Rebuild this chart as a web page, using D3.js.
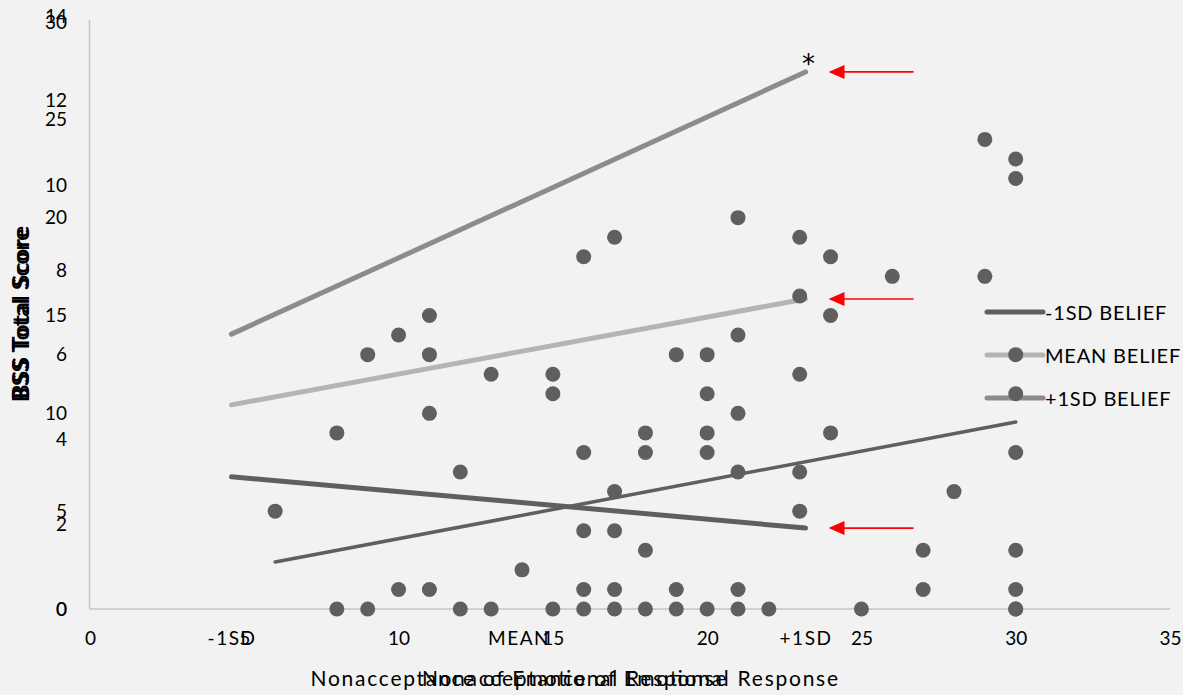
<!DOCTYPE html>
<html>
<head>
<meta charset="utf-8">
<script src="https://cdn.jsdelivr.net/npm/d3@7"></script>
<style>
  body { margin: 0; background: #f2f2f2; }
  text { font-family: Lato, "Open Sans", sans-serif; fill: #000; }
</style>
</head>
<body>
<div id="chart"></div>
<script>
// scatter: nonacceptance of emotional response vs BSS total score
let nonacceptance = [6, 8, 8, 9, 9, 10, 10, 11, 11, 11, 11, 12, 12, 13, 13, 14,
  15, 15, 15, 16, 16, 16, 16, 16, 17, 17, 17, 17, 17, 18, 18, 18, 18,
  19, 19, 19, 20, 20, 20, 20, 20, 21, 21, 21, 21, 21, 21, 22,
  23, 23, 23, 23, 23, 24, 24, 24, 25, 26, 27, 27, 28, 29, 29,
  30, 30, 30, 30, 30, 30, 30, 30, 30];
let bssScore = [5, 9, 0, 13, 0, 14, 1, 15, 13, 10, 1, 7, 0, 12, 0, 2,
  12, 11, 0, 18, 8, 4, 1, 0, 19, 6, 4, 1, 0, 9, 8, 3, 0,
  13, 1, 0, 13, 11, 9, 8, 0, 20, 14, 10, 7, 1, 0, 0,
  19, 16, 12, 7, 5, 18, 15, 9, 0, 17, 3, 1, 6, 24, 17,
  23, 22, 13, 11, 8, 3, 1, 0, 0];

// linear trendline of the scatter (end points)
let trendX = [6, 30];
let trendY = [2.4, 9.56];

// overlay: simple slopes by belief level
let slopeCategories = ["-1SD", "MEAN", "+1SD"];
let lowBelief  = [3.12, 2.52, 1.91];
let meanBelief = [4.82, 6.07, 7.32];
let highBelief = [6.49, 9.58, 12.68];
let seriesNames = ["-1SD BELIEF", "MEAN BELIEF", "+1SD BELIEF"];

let xTicks = [0, 5, 10, 15, 20, 25, 30, 35];
let yTicks = [0, 5, 10, 15, 20, 25, 30];
let overlayTicks = [0, 2, 4, 6, 8, 10, 12, 14];

let width = 1183, height = 695;
let colors = ["#5f5f5f", "#b4b4b4", "#8c8c8c"];

let x = d3.scaleLinear().domain([0, 35]).range([90, 1170]);
let y = d3.scaleLinear().domain([0, 30]).range([609, 22]);

let xBand = d3.scaleBand().domain(slopeCategories).range([88, 949]);
let xCat = function(d) { return xBand(d) + xBand.bandwidth() / 2; };
let yOver = d3.scaleLinear().domain([0, 14]).range([609, 16]);

let svg = d3.select("#chart").append("svg")
    .attr("width", width)
    .attr("height", height);

svg.append("rect")
    .attr("width", width)
    .attr("height", height)
    .attr("fill", "#f2f2f2");

// axis lines
svg.append("line")
    .attr("x1", x(0) - 0.5).attr("x2", x(0) - 0.5)
    .attr("y1", 20).attr("y2", y(0))
    .attr("stroke", "#c4c4c4").attr("stroke-width", 1.5);
svg.append("line")
    .attr("x1", x(0)).attr("x2", x(35))
    .attr("y1", y(0)).attr("y2", y(0))
    .attr("stroke", "#c4c4c4").attr("stroke-width", 1.5);

function styleAxis(g) {
  g.select(".domain").remove();
  g.selectAll("text").style("font-size", "19px").attr("fill", "#000");
}

// overlay axes
svg.append("g")
    .attr("transform", "translate(" + x(0) + ",0)")
    .call(d3.axisLeft(yOver).tickValues(overlayTicks).tickSize(0).tickPadding(23))
    .call(styleAxis);
svg.append("g")
    .attr("transform", "translate(0," + y(0) + ")")
    .call(d3.axisBottom(d3.scalePoint().domain(slopeCategories).range([xCat("-1SD"), xCat("+1SD")]))
      .tickSize(0).tickPadding(23))
    .call(styleAxis)
    .selectAll("text").style("letter-spacing", "1.5px");

// scatter axes
svg.append("g")
    .attr("transform", "translate(" + x(0) + ",0)")
    .call(d3.axisLeft(y).tickValues(yTicks).tickSize(0).tickPadding(23))
    .call(styleAxis);
svg.append("g")
    .attr("transform", "translate(0," + y(0) + ")")
    .call(d3.axisBottom(x).tickValues(xTicks).tickSize(0).tickPadding(23))
    .call(styleAxis);

// axis titles (both charts' titles sit on top of each other)
[ (y(0) + y(30)) / 2, (yOver(0) + yOver(14)) / 2 ].forEach(function(cy) {
  svg.append("text")
      .attr("transform", "translate(20," + cy + ") rotate(-90)")
      .attr("text-anchor", "middle")
      .attr("dominant-baseline", "central")
      .attr("textLength", 173)
      .attr("lengthAdjust", "spacing")
      .style("font-size", "22px")
      .style("font-weight", "bold")
      .text("BSS Total Score");
});
[ (x(0) + x(35)) / 2, (xBand.range()[0] + xBand.range()[1]) / 2 ].forEach(function(cx) {
  svg.append("text")
      .attr("x", cx - 208)
      .attr("y", 677)
      .attr("dominant-baseline", "central")
      .attr("textLength", 416)
      .attr("lengthAdjust", "spacing")
      .style("font-size", "21px")
      .text("Nonacceptance of Emotional Response");
});

// overlay lines
let series = [lowBelief, meanBelief, highBelief];
let line = d3.line()
    .x(function(d, i) { return xCat(slopeCategories[i]); })
    .y(function(d) { return yOver(d); });

svg.selectAll("path.slope").data(series).enter()
  .append("path")
    .attr("class", "slope")
    .attr("d", line)
    .attr("fill", "none")
    .attr("stroke", function(d, i) { return colors[i]; })
    .attr("stroke-width", 5)
    .attr("stroke-linecap", "round");

// legend
let legend = svg.append("g").attr("transform", "translate(987,0)");
let legendRows = [312, 355, 398];
seriesNames.forEach(function(name, i) {
  legend.append("line")
      .attr("x1", 0).attr("x2", 56)
      .attr("y1", legendRows[i]).attr("y2", legendRows[i])
      .attr("stroke", colors[i])
      .attr("stroke-width", 5)
      .attr("stroke-linecap", "round");
  legend.append("text")
      .attr("x", 58)
      .attr("y", legendRows[i])
      .attr("dominant-baseline", "central")
      .style("font-size", "20px")
      .style("letter-spacing", "0.8px")
      .text(name);
});

// red arrows pointing at the line ends
let tipX = xCat("+1SD") + 23, tailX = xCat("+1SD") + 108;
series.forEach(function(s) {
  let ay = yOver(s[s.length - 1]);
  svg.append("line")
      .attr("x1", tipX + 10).attr("x2", tailX)
      .attr("y1", ay).attr("y2", ay)
      .attr("stroke", "#ff0000").attr("stroke-width", 1.6);
  svg.append("path")
      .attr("d", "M" + tipX + "," + ay + "L" + (tipX + 16) + "," + (ay - 7) + "L" + (tipX + 16) + "," + (ay + 7) + "Z")
      .attr("fill", "#ff0000");
});

svg.append("text")
    .attr("x", xCat("+1SD") + 3)
    .attr("y", yOver(highBelief[2]) + 1)
    .attr("text-anchor", "middle")
    .style("font-family", "'DejaVu Sans', sans-serif")
    .style("font-size", "26px")
    .text("*");

// scatter points
svg.selectAll("circle.pt").data(nonacceptance).enter()
  .append("circle")
    .attr("class", "pt")
    .attr("cx", function(d) { return x(d); })
    .attr("cy", function(d, i) { return y(bssScore[i]); })
    .attr("r", 7.5)
    .attr("fill", "#5f5f5f");

// trendline
svg.append("path")
    .attr("d", d3.line().x(function(d) { return x(d); }).y(function(d, i) { return y(trendY[i]); })(trendX))
    .attr("fill", "none")
    .attr("stroke", "#5f5f5f")
    .attr("stroke-width", 3.5)
    .attr("stroke-linecap", "round");
</script>
</body>
</html>
